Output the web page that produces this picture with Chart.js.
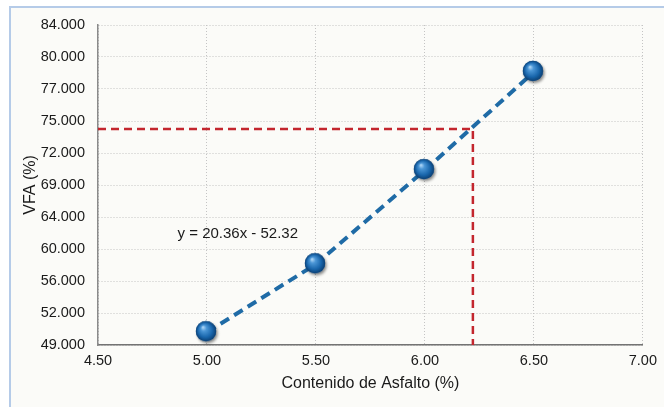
<!DOCTYPE html>
<html>
<head>
<meta charset="utf-8">
<script src="https://cdn.jsdelivr.net/npm/chart.js@4/dist/chart.umd.min.js"></script>
<style>
  html, body { margin: 0; padding: 0; background: #ffffff; overflow: hidden; }
  #frame {
    position: absolute; left: 9px; top: 6px; width: 700px; height: 500px;
    border: 2px solid #b5cbe8; background: #fbfbf8;
  }
  #wrap { position: absolute; left: 0; top: 0; width: 664px; height: 407px; }
</style>
</head>
<body>
<div id="frame"></div>
<div id="wrap"><canvas id="chart" width="664" height="407"></canvas></div>
<script>
// Asphalt content (%) and measured VFA (%)
const asphaltContent = [5.0, 5.5, 6.0, 6.5];
const vfaValues = [50.2, 58.1, 70.4, 78.6];

// Axis tick labels
const xTicks = [4.5, 5.0, 5.5, 6.0, 6.5, 7.0];
const vfaTicks = [49, 52, 56, 60, 64, 69, 72, 75, 77, 80, 84];

// Design point
const designContent = [6.22];
const designVfa = [74.25];

// Fitted equation
const trendSlope = 20.36;
const trendIntercept = 52.32;

// Where the equation text sits (data units)
const EQUATION_AT = { x: 4.865, y: 61.9 };

const FONT = "'Liberation Sans', Arial, Helvetica, sans-serif";

// Maps a VFA value to its fraction along the axis, with the labelled
// ticks spaced evenly.
function vfaFraction(v) {
  const t = vfaTicks, n = t.length - 1;
  if (v <= t[0]) return ((v - t[0]) / (t[1] - t[0])) / n;
  for (let i = 0; i < n; i++) {
    if (v <= t[i + 1]) return (i + (v - t[i]) / (t[i + 1] - t[i])) / n;
  }
  return (n + (v - t[n]) / (t[n] - t[n - 1])) / n;
}
function fractionVfa(f) {
  const t = vfaTicks, n = t.length - 1;
  const pos = Math.min(Math.max(f * n, 0), n);
  const i = Math.min(Math.floor(pos), n - 1);
  return t[i] + (pos - i) * (t[i + 1] - t[i]);
}

class GradedScale extends Chart.LinearScale {
  determineDataLimits() {
    this.min = vfaTicks[0];
    this.max = vfaTicks[vfaTicks.length - 1];
  }
  buildTicks() {
    this.start = this.min;
    this.end = this.max;
    return vfaTicks.map(v => ({ value: v }));
  }
  getPixelForValue(value) {
    if (value === null || value === undefined) return NaN;
    return this.getPixelForDecimal(vfaFraction(value));
  }
  getValueForPixel(pixel) {
    return fractionVfa(this.getDecimalForPixel(pixel));
  }
}
GradedScale.id = 'graded';
GradedScale.defaults = Chart.LinearScale.defaults;
Chart.register(GradedScale);

// Glossy blue marker
function makeSphere() {
  const c = document.createElement('canvas');
  c.width = 30; c.height = 30;
  const g = c.getContext('2d');
  const cx = 14, cy = 14, r = 10.2;
  g.save();
  g.shadowColor = 'rgba(0,0,0,0.45)';
  g.shadowBlur = 3;
  g.shadowOffsetX = 1.5;
  g.shadowOffsetY = 2;
  g.beginPath(); g.arc(cx, cy, r, 0, Math.PI * 2);
  g.fillStyle = '#14599a';
  g.fill();
  g.restore();
  const grad = g.createRadialGradient(cx - 3, cy - 4, 0.5, cx, cy, r);
  grad.addColorStop(0, '#a9d3f5');
  grad.addColorStop(0.25, '#4b96d6');
  grad.addColorStop(0.7, '#1865ab');
  grad.addColorStop(1, '#0c3f72');
  g.beginPath(); g.arc(cx, cy, r, 0, Math.PI * 2);
  g.fillStyle = grad;
  g.fill();
  return c;
}
const sphere = makeSphere();

const points = asphaltContent.map((x, i) => ({ x, y: vfaValues[i] }));
const designPath = [
  { x: xTicks[0], y: designVfa[0] },
  { x: designContent[0], y: designVfa[0] },
  { x: designContent[0], y: vfaTicks[0] }
];

const equationText = 'y = ' + trendSlope.toFixed(2) + 'x - ' + trendIntercept.toFixed(2);

const equationLabel = {
  id: 'equationLabel',
  afterDatasetsDraw(chart) {
    const { ctx, scales } = chart;
    ctx.save();
    ctx.font = '15px ' + FONT;
    ctx.fillStyle = '#1a1a1a';
    ctx.textAlign = 'left';
    ctx.textBaseline = 'middle';
    ctx.fillText(equationText, scales.x.getPixelForValue(EQUATION_AT.x), scales.y.getPixelForValue(EQUATION_AT.y));
    ctx.restore();
  }
};

new Chart(document.getElementById('chart'), {
  type: 'scatter',
  data: {
    datasets: [
      {
        data: points,
        showLine: true,
        borderColor: '#1f6ba6',
        borderWidth: 4,
        borderDash: [10, 6],
        pointStyle: sphere,
        pointRadius: 10,
        pointHoverRadius: 10,
        order: 0
      },
      {
        data: designPath,
        showLine: true,
        borderColor: '#c3262e',
        borderWidth: 2.5,
        borderDash: [8, 5],
        pointRadius: 0,
        pointHoverRadius: 0,
        order: 1
      }
    ]
  },
  options: {
    responsive: false,
    animation: false,
    devicePixelRatio: 1,
    layout: { padding: { left: 0, top: 25, right: 20, bottom: 0 } },
    plugins: { legend: { display: false }, tooltip: { enabled: false } },
    scales: {
      x: {
        type: 'linear',
        min: xTicks[0],
        max: xTicks[xTicks.length - 1],
        afterBuildTicks: (s) => { s.ticks = xTicks.map(v => ({ value: v })); },
        afterFit: (s) => { s.height = 62; },
        ticks: {
          callback: (v) => Number(v).toFixed(2),
          color: '#1a1a1a',
          font: { family: FONT, size: 14.5 },
          padding: 7,
          maxRotation: 0,
          autoSkip: false
        },
        grid: { color: '#c4c4c4', lineWidth: 1, drawTicks: false },
        border: { display: true, color: '#737373', width: 1.5, dash: [1, 2] },
        title: {
          display: true,
          text: 'Contenido de Asfalto (%)',
          color: '#1a1a1a',
          font: { family: FONT, size: 16 },
          padding: { top: 0, bottom: 14 }
        }
      },
      y: {
        type: 'graded',
        afterFit: (s) => { s.width = 98; },
        ticks: {
          callback: (v) => Number(v).toFixed(3),
          color: '#1a1a1a',
          font: { family: FONT, size: 14.5 },
          padding: 13,
          autoSkip: false
        },
        grid: { color: '#c4c4c4', lineWidth: 1, drawTicks: false },
        border: { display: true, color: '#8a8a8a', width: 1.5, dash: [1, 2] },
        title: {
          display: true,
          text: 'VFA (%)',
          color: '#1a1a1a',
          font: { family: FONT, size: 16 },
          padding: { top: 21, bottom: 0 }
        }
      }
    }
  },
  plugins: [equationLabel]
});
</script>
</body>
</html>
